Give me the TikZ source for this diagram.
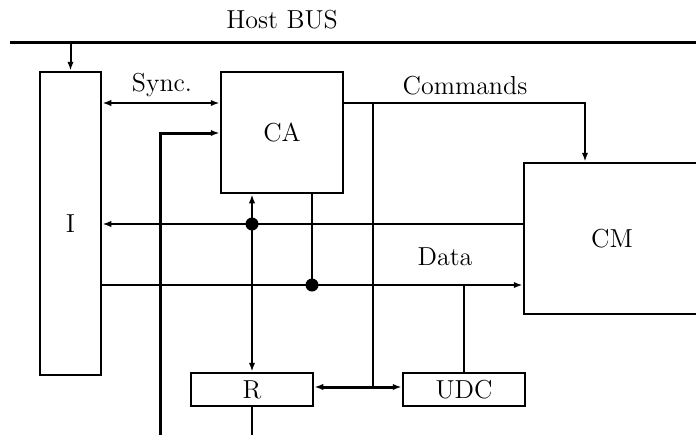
\documentclass[tikz,border=0pt]{standalone}
\usetikzlibrary{arrows.meta,calc}
\begin{document}
\begin{tikzpicture}[x=0.5pt,y=-0.5pt,
  >={Latex[length=4.5pt,width=3.2pt]},
  line width=1pt,
  every node/.style={font=\fontsize{13}{15}\selectfont},
  blk/.style={draw,line width=1.25pt,inner sep=0pt},
  thk/.style={line width=1.5pt},
  jdot/.style={circle,fill,inner sep=0pt,minimum size=6.5pt}]
\useasboundingbox (0,0) rectangle (696,435);
\clip (0,0) rectangle (696,435);
% nodes
\node[blk,minimum width=30.5pt,minimum height=151.5pt] (I) at (70.5,223.5) {I};
\node[blk,minimum width=61pt,minimum height=60.5pt] (CA) at (282,132.5) {CA};
\node[blk,minimum width=88pt,minimum height=75.5pt] (CM) at (612,238.5) {CM};
\node[blk,minimum width=61pt,minimum height=16.5pt] (R) at (252,389.5) {R};
\node[blk,minimum width=61pt,minimum height=16.5pt] (UDC) at (464,389.5) {UDC};
% coordinates
\coordinate (busL) at (10,42);
\coordinate (busR) at (700,42);
\coordinate (busI) at (70.5,42);
\coordinate (ySync) at (0,103);
\coordinate (yIn) at (0,133);
\coordinate (yBack) at (0,224);
\coordinate (yData) at (0,285);
\coordinate (yRU) at (0,387);
\coordinate (inBot) at (160,435);
\coordinate (inCorner) at (160,133);
\coordinate (cmdCorner) at (585,103);
\coordinate (busTop) at (373,103);
\coordinate (busBot) at (373,387);
\coordinate (caOut) at (312,193);
\coordinate (rBot) at (252,435);
% host bus
\draw[thk] (busL) -- (busR);
\node (hostlbl) at (282,20) {Host BUS};
\draw[->] (busI) -- (I.north);
% sync
\draw[<->] (I.east |- ySync) -- (CA.west |- ySync);
\node (synclbl) at (162,85) {Sync.};
% input to CA
\draw[thk,->] (inBot) -- (inCorner) -- (CA.west |- yIn);
% commands
\draw[->] (CA.east |- ySync) -- (cmdCorner) -- (CM.north -| cmdCorner);
\node (cmdlbl) at (465,86) {Commands};
% vertical bus to R/UDC
\draw (busTop) -- (busBot);
% back line CM -> I
\draw[->] (CM.west |- yBack) -- (I.east |- yBack);
\node[jdot] (d1) at (252,224) {};
% data line
\draw[->] (I.east |- yData) -- (CM.west |- yData);
\node (datalbl) at (445,257) {Data};
\draw (caOut) -- (caOut |- yData);
\node[jdot] (d2) at (312,285) {};
% CA <-> R
\draw[<->] (R.north) -- (R.north |- CA.south);
% R <-> UDC
\draw[thk,<->] (R.east |- yRU) -- (UDC.west |- yRU);
% UDC to data
\draw (UDC.north) -- (UDC.north |- yData);
% R bottom
\draw (R.south) -- (rBot);
\end{tikzpicture}
\end{document}
